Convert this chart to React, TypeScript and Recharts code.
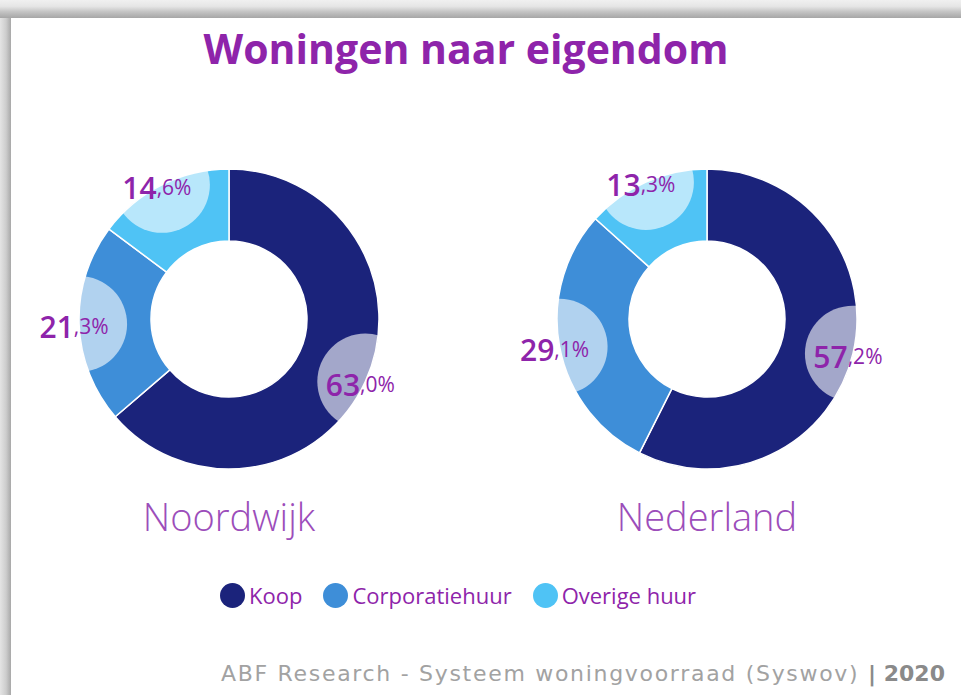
import { PieChart, Pie, Cell, Sector } from 'recharts';

const CATEGORIES = ['Koop', 'Corporatiehuur', 'Overige huur'];
const COLORS = ['#1b237b', '#3e8ed8', '#4fc3f5'];
const NOORDWIJK = [63.0, 21.3, 14.6];
const NEDERLAND = [57.2, 29.1, 13.3];
const REGIONS = ['Noordwijk', 'Nederland'];

const PURPLE = '#8e24aa';
const FONT = '"Open Sans", "Noto Sans", sans-serif';

const toRows = (values: number[]) =>
  values.map((v, i) => ({ name: CATEGORIES[i], value: v }));

const makeLabel = (id: string) => (props: any) => {
  const { cx, cy, midAngle, innerRadius, outerRadius, startAngle, endAngle, value, index } = props;
  const RAD = Math.PI / 180;
  const x = cx + outerRadius * Math.cos(-midAngle * RAD);
  const y = cy + outerRadius * Math.sin(-midAngle * RAD);
  const clipId = `${id}-clip-${index}`;
  const [whole, frac] = Number(value).toFixed(1).split('.');
  return (
    <g key={clipId}>
      <defs>
        <clipPath id={clipId}>
          <Sector
            cx={cx}
            cy={cy}
            innerRadius={innerRadius}
            outerRadius={outerRadius}
            startAngle={startAngle}
            endAngle={endAngle}
          />
        </clipPath>
      </defs>
      <circle cx={x} cy={y} r={48} fill="#fff" fillOpacity={0.6} clipPath={`url(#${clipId})`} />
      <text
        x={x - 5}
        y={y + 2}
        textAnchor="middle"
        dominantBaseline="central"
        fill={PURPLE}
        fontFamily={FONT}
      >
        <tspan fontSize={30} fontWeight={600}>{whole}</tspan>
        <tspan fontSize={21}>,{frac}%</tspan>
      </text>
    </g>
  );
};

export default function App() {
  const centers = [229, 707];
  const sets = [NOORDWIJK, NEDERLAND];
  return (
    <div
      style={{
        position: 'absolute',
        left: 0,
        top: 0,
        width: 961,
        height: 695,
        overflow: 'hidden',
        background: '#fff',
        fontFamily: FONT,
      }}
    >
      {/* frame shadow */}
      <div
        style={{
          position: 'absolute',
          left: 0,
          top: 0,
          width: 11,
          height: 695,
          background: 'linear-gradient(to right, #e4e4e4, #cdcdcd 55%, #a8a8a8)',
        }}
      />
      <div
        style={{
          position: 'absolute',
          left: 0,
          top: 0,
          width: 961,
          height: 18,
          background: 'linear-gradient(#f0f0f0, #e6e6e6 35%, #c4c4c4 65%, #a6a6a6)',
        }}
      />
      <div
        style={{
          position: 'absolute',
          left: 0,
          top: 24,
          width: 932,
          textAlign: 'center',
          color: PURPLE,
          fontSize: 41,
          lineHeight: 1.2,
          fontWeight: 700,
        }}
      >
        Woningen naar eigendom
      </div>
      <div style={{ position: 'absolute', left: 0, top: 0 }}>
        <PieChart width={961} height={695} margin={{ top: 0, right: 0, bottom: 0, left: 0 }}>
          {sets.map((vals, s) => (
            <Pie
              key={REGIONS[s]}
              data={toRows(vals)}
              dataKey="value"
              nameKey="name"
              cx={centers[s]}
              cy={319}
              innerRadius={78}
              outerRadius={150}
              startAngle={90}
              endAngle={-270}
              stroke="#fff"
              strokeWidth={1.5}
              labelLine={false}
              label={makeLabel(`p${s}`)}
              isAnimationActive={false}
            >
              {vals.map((_, i) => (
                <Cell key={i} fill={COLORS[i]} />
              ))}
            </Pie>
          ))}
        </PieChart>
      </div>
      {REGIONS.map((r, s) => (
        <div
          key={r}
          style={{
            position: 'absolute',
            left: centers[s] - 150,
            top: 490,
            width: 300,
            textAlign: 'center',
            color: '#9c4dba',
            fontSize: 38,
            fontWeight: 300,
          }}
        >
          {r}
        </div>
      ))}
      <div
        style={{
          position: 'absolute',
          left: 220,
          top: 580,
          display: 'flex',
          alignItems: 'center',
          color: PURPLE,
          fontSize: 22,
        }}
      >
        {CATEGORIES.map((c, i) => (
          <div key={c} style={{ display: 'flex', alignItems: 'center', marginRight: 21 }}>
            <span
              style={{
                display: 'inline-block',
                width: 25,
                height: 25,
                borderRadius: '50%',
                background: COLORS[i],
                marginRight: 4,
              }}
            />
            {c}
          </div>
        ))}
      </div>
      <div
        style={{
          position: 'absolute',
          right: 16,
          top: 661,
          color: '#a2a2a2',
          fontSize: 22,
          fontFamily: '"DejaVu Sans", sans-serif',
          letterSpacing: 1.7,
          whiteSpace: 'nowrap',
        }}
      >
        ABF Research - Systeem woningvoorraad (Syswov) <b style={{ color: '#8a8a8a', fontWeight: 700, letterSpacing: 0 }}>| 2020</b>
      </div>
    </div>
  );
}
